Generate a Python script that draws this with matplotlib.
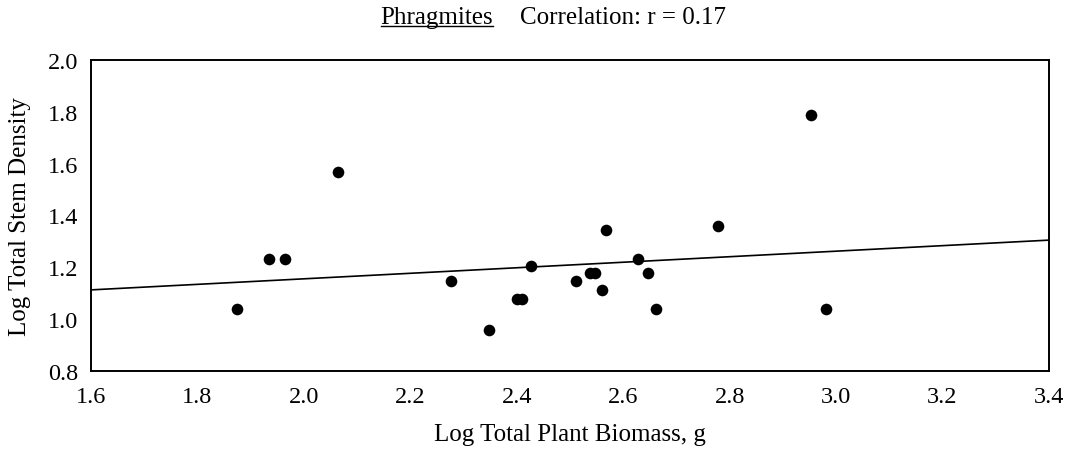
import matplotlib
matplotlib.use("Agg")
import matplotlib.pyplot as plt
from matplotlib.lines import Line2D

plt.rcParams['font.family'] = ['Liberation Serif', 'DejaVu Serif']

# Data
biomass = [1.874, 1.935, 1.965, 2.065, 2.277, 2.348, 2.400, 2.410, 2.427,
           2.512, 2.537, 2.547, 2.561, 2.568, 2.627, 2.646, 2.661, 2.779,
           2.952, 2.981]
stem_density = [1.041, 1.231, 1.231, 1.567, 1.148, 0.957, 1.079, 1.079, 1.206,
                1.147, 1.177, 1.177, 1.113, 1.345, 1.234, 1.178, 1.041, 1.361,
                1.786, 1.041]
fit_x = [1.6, 3.4]
fit_y = [1.113, 1.305]

xticks = [1.6, 1.8, 2.0, 2.2, 2.4, 2.6, 2.8, 3.0, 3.2, 3.4]
yticks = [0.8, 1.0, 1.2, 1.4, 1.6, 1.8, 2.0]

W, H = 1071, 452
L, R, T, B = 91, 1049, 61, 372
fig = plt.figure(figsize=(W/100, H/100), dpi=100)
ax = fig.add_axes([L/W, 1 - B/H, (R-L)/W, (B-T)/H])

ax.plot(fit_x, fit_y, color='black', lw=1.2)
ax.scatter(biomass, stem_density, s=70, color='black', zorder=3, linewidths=0)

ax.set_xlim(1.6, 3.4)
ax.set_ylim(0.8, 2.0)
ax.set_xticks(xticks)
ax.set_yticks(yticks)
ax.set_xticklabels([f"{v:.1f}" for v in xticks])
ax.set_yticklabels([f"{v:.1f}" for v in yticks])
ax.tick_params(length=0, labelsize=17.5)
ax.tick_params(axis='x', pad=11)
ax.tick_params(axis='y', pad=9)
for s in ax.spines.values():
    s.set_linewidth(1.4)

ax.set_xlabel("Log Total Plant Biomass, g", fontsize=18, va='center')
ax.xaxis.set_label_coords(0.5, (B - 435) / (B - T))
ax.set_ylabel("Log Total Stem Density", fontsize=18, va='center')
ax.yaxis.set_label_coords((20 - L) / (R - L), 0.5)

t1 = fig.text(437/W, 1 - 18/H, "Phragmites", fontsize=18, ha='center', va='center')
t2 = fig.text(623/W, 1 - 18/H, "Correlation: r = 0.17", fontsize=18, ha='center', va='center')

fig.canvas.draw()
bb = t1.get_window_extent(renderer=fig.canvas.get_renderer())
inv = fig.transFigure.inverted()
(x0, y0), (x1, y1) = inv.transform([(bb.x0, bb.y0 + 2), (bb.x1, bb.y0 + 2)])
fig.add_artist(Line2D([x0, x1], [y0, y1], transform=fig.transFigure, color='black', lw=1.0))

fig.savefig("out.png", dpi=100)
